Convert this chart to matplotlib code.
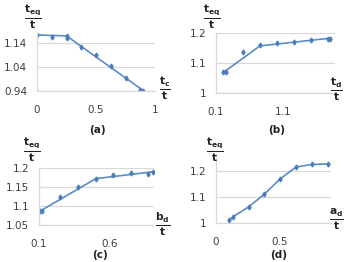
import matplotlib
matplotlib.use("Agg")
import matplotlib.pyplot as plt

# Panel (a)
a_x = [0.0, 0.125, 0.25, 0.25, 0.375, 0.5, 0.625, 0.75, 0.875, 0.9]
a_y = [1.170, 1.164, 1.160, 1.168, 1.124, 1.087, 1.045, 0.993, 0.945, 0.942]
a_fit_x = [0.0, 0.25, 0.9]
a_fit_y = [1.172, 1.168, 0.942]
a_yticks = [0.94, 1.04, 1.14]
a_xticks = [0, 0.5, 1]

# Panel (b)
b_x = [0.2, 0.25, 0.5, 0.75, 1.0, 1.25, 1.5, 1.76, 1.79]
b_y = [1.069, 1.071, 1.137, 1.159, 1.167, 1.170, 1.176, 1.180, 1.181]
b_fit_x = [0.2, 0.75, 1.8]
b_fit_y = [1.067, 1.157, 1.183]
b_yticks = [1.0, 1.1, 1.2]
b_xticks = [0.1, 1.1]

# Panel (c)
c_x = [0.105, 0.124, 0.251, 0.376, 0.501, 0.624, 0.749, 0.871, 0.902]
c_y = [1.086, 1.086, 1.123, 1.149, 1.170, 1.182, 1.187, 1.185, 1.190]
c_fit_x = [0.1, 0.5, 0.9]
c_fit_y = [1.085, 1.172, 1.190]
c_yticks = [1.05, 1.1, 1.15, 1.2]
c_xticks = [0.1, 0.6]

# Panel (d)
d_x = [0.105, 0.134, 0.258, 0.382, 0.505, 0.632, 0.758, 0.884]
d_y = [1.009, 1.023, 1.061, 1.110, 1.168, 1.215, 1.225, 1.227]
d_yticks = [1.0, 1.1, 1.2]
d_xticks = [0, 0.5]

W, H = 345, 262
fig = plt.figure(figsize=(W / 100, H / 100), dpi=100)
plt.rcParams['font.family'] = ['DejaVu Sans']

line_c = '#5a8cc6'
mark_c = '#4a7ebb'
grid_c = '#d9d9d9'
txt_c = '#404040'


def mkax(l, r, b, t):
    return fig.add_axes([l / W, 1 - b / H, (r - l) / W, (b - t) / H])


def style(ax, xl, yl, xt, yt, ytxt, xlbl, xlpos, ylpos, cap, cappos):
    ax.set_xlim(*xl)
    ax.set_ylim(*yl)
    ax.set_xticks(xt)
    ax.set_yticks(yt)
    ax.set_xticklabels([f"{v:g}" for v in xt])
    ax.set_yticklabels(ytxt)
    for s in ['top', 'right']:
        ax.spines[s].set_visible(False)
    for s in ['left', 'bottom']:
        ax.spines[s].set_color(grid_c)
        ax.spines[s].set_linewidth(0.9)
    ax.grid(axis='y', color=grid_c, linewidth=0.9)
    ax.set_axisbelow(True)
    ax.tick_params(axis='both', length=0, labelsize=7.5, labelcolor=txt_c)
    ax.tick_params(axis='x', pad=10)
    ax.tick_params(axis='y', pad=7)
    fig.text(ylpos[0] / W, 1 - ylpos[1] / H, r'$\frac{\mathbf{t_{eq}}}{\mathbf{t}}$',
             fontsize=11, ha='center', va='center', color='#222222')
    fig.text(xlpos[0] / W, 1 - xlpos[1] / H, xlbl,
             fontsize=11, ha='center', va='center', color='#222222')
    fig.text(cappos[0] / W, 1 - cappos[1] / H, cap, fontsize=7.5,
             ha='center', va='center', color='#222222', fontweight='bold')


# (a)
ax = mkax(37, 155, 91, 33)
ax.plot(a_fit_x, a_fit_y, color=line_c, lw=1.2)
ax.plot(a_x, a_y, ls='none', marker='d', ms=2.5, color=mark_c)
style(ax, (0, 1), (0.94, 1.18), a_xticks, a_yticks, ['0.94', '1.04', '1.14'],
      r'$\frac{\mathbf{t_c}}{\mathbf{t}}$', (165, 88), (33, 17), '(a)', (97, 130))

# (b)
ax = mkax(216, 335, 93, 33)
ax.plot(b_fit_x, b_fit_y, color=line_c, lw=1.2)
ax.plot(b_x, b_y, ls='none', marker='d', ms=2.5, color=mark_c)
style(ax, (0.1, 1.86), (1.0, 1.2), b_xticks, b_yticks, ['1', '1.1', '1.2'],
      r'$\frac{\mathbf{t_d}}{\mathbf{t}}$', (336, 89), (212, 17), '(b)', (277, 130))

# (c)
ax = mkax(39, 154, 225, 168)
ax.plot(c_fit_x, c_fit_y, color=line_c, lw=1.2)
ax.plot(c_x, c_y, ls='none', marker='d', ms=2.5, color=mark_c)
style(ax, (0.1, 0.91), (1.05, 1.2), c_xticks, c_yticks, ['1.05', '1.1', '1.15', '1.2'],
      r'$\frac{\mathbf{b_d}}{\mathbf{t}}$', (163, 224), (32, 150), '(c)', (100, 255.5))

# (d)
ax = mkax(216, 331, 222.7, 158)
ax.plot(d_x, d_y, color=line_c, lw=1.2, marker='d', ms=2.5, mfc=mark_c, mec=mark_c)
style(ax, (0, 0.91), (1.0, 1.25), d_xticks, d_yticks, ['1', '1.1', '1.2'],
      r'$\frac{\mathbf{a_d}}{\mathbf{t}}$', (336, 219), (215, 150), '(d)', (279, 255.5))

fig.savefig('out.png', dpi=100)
